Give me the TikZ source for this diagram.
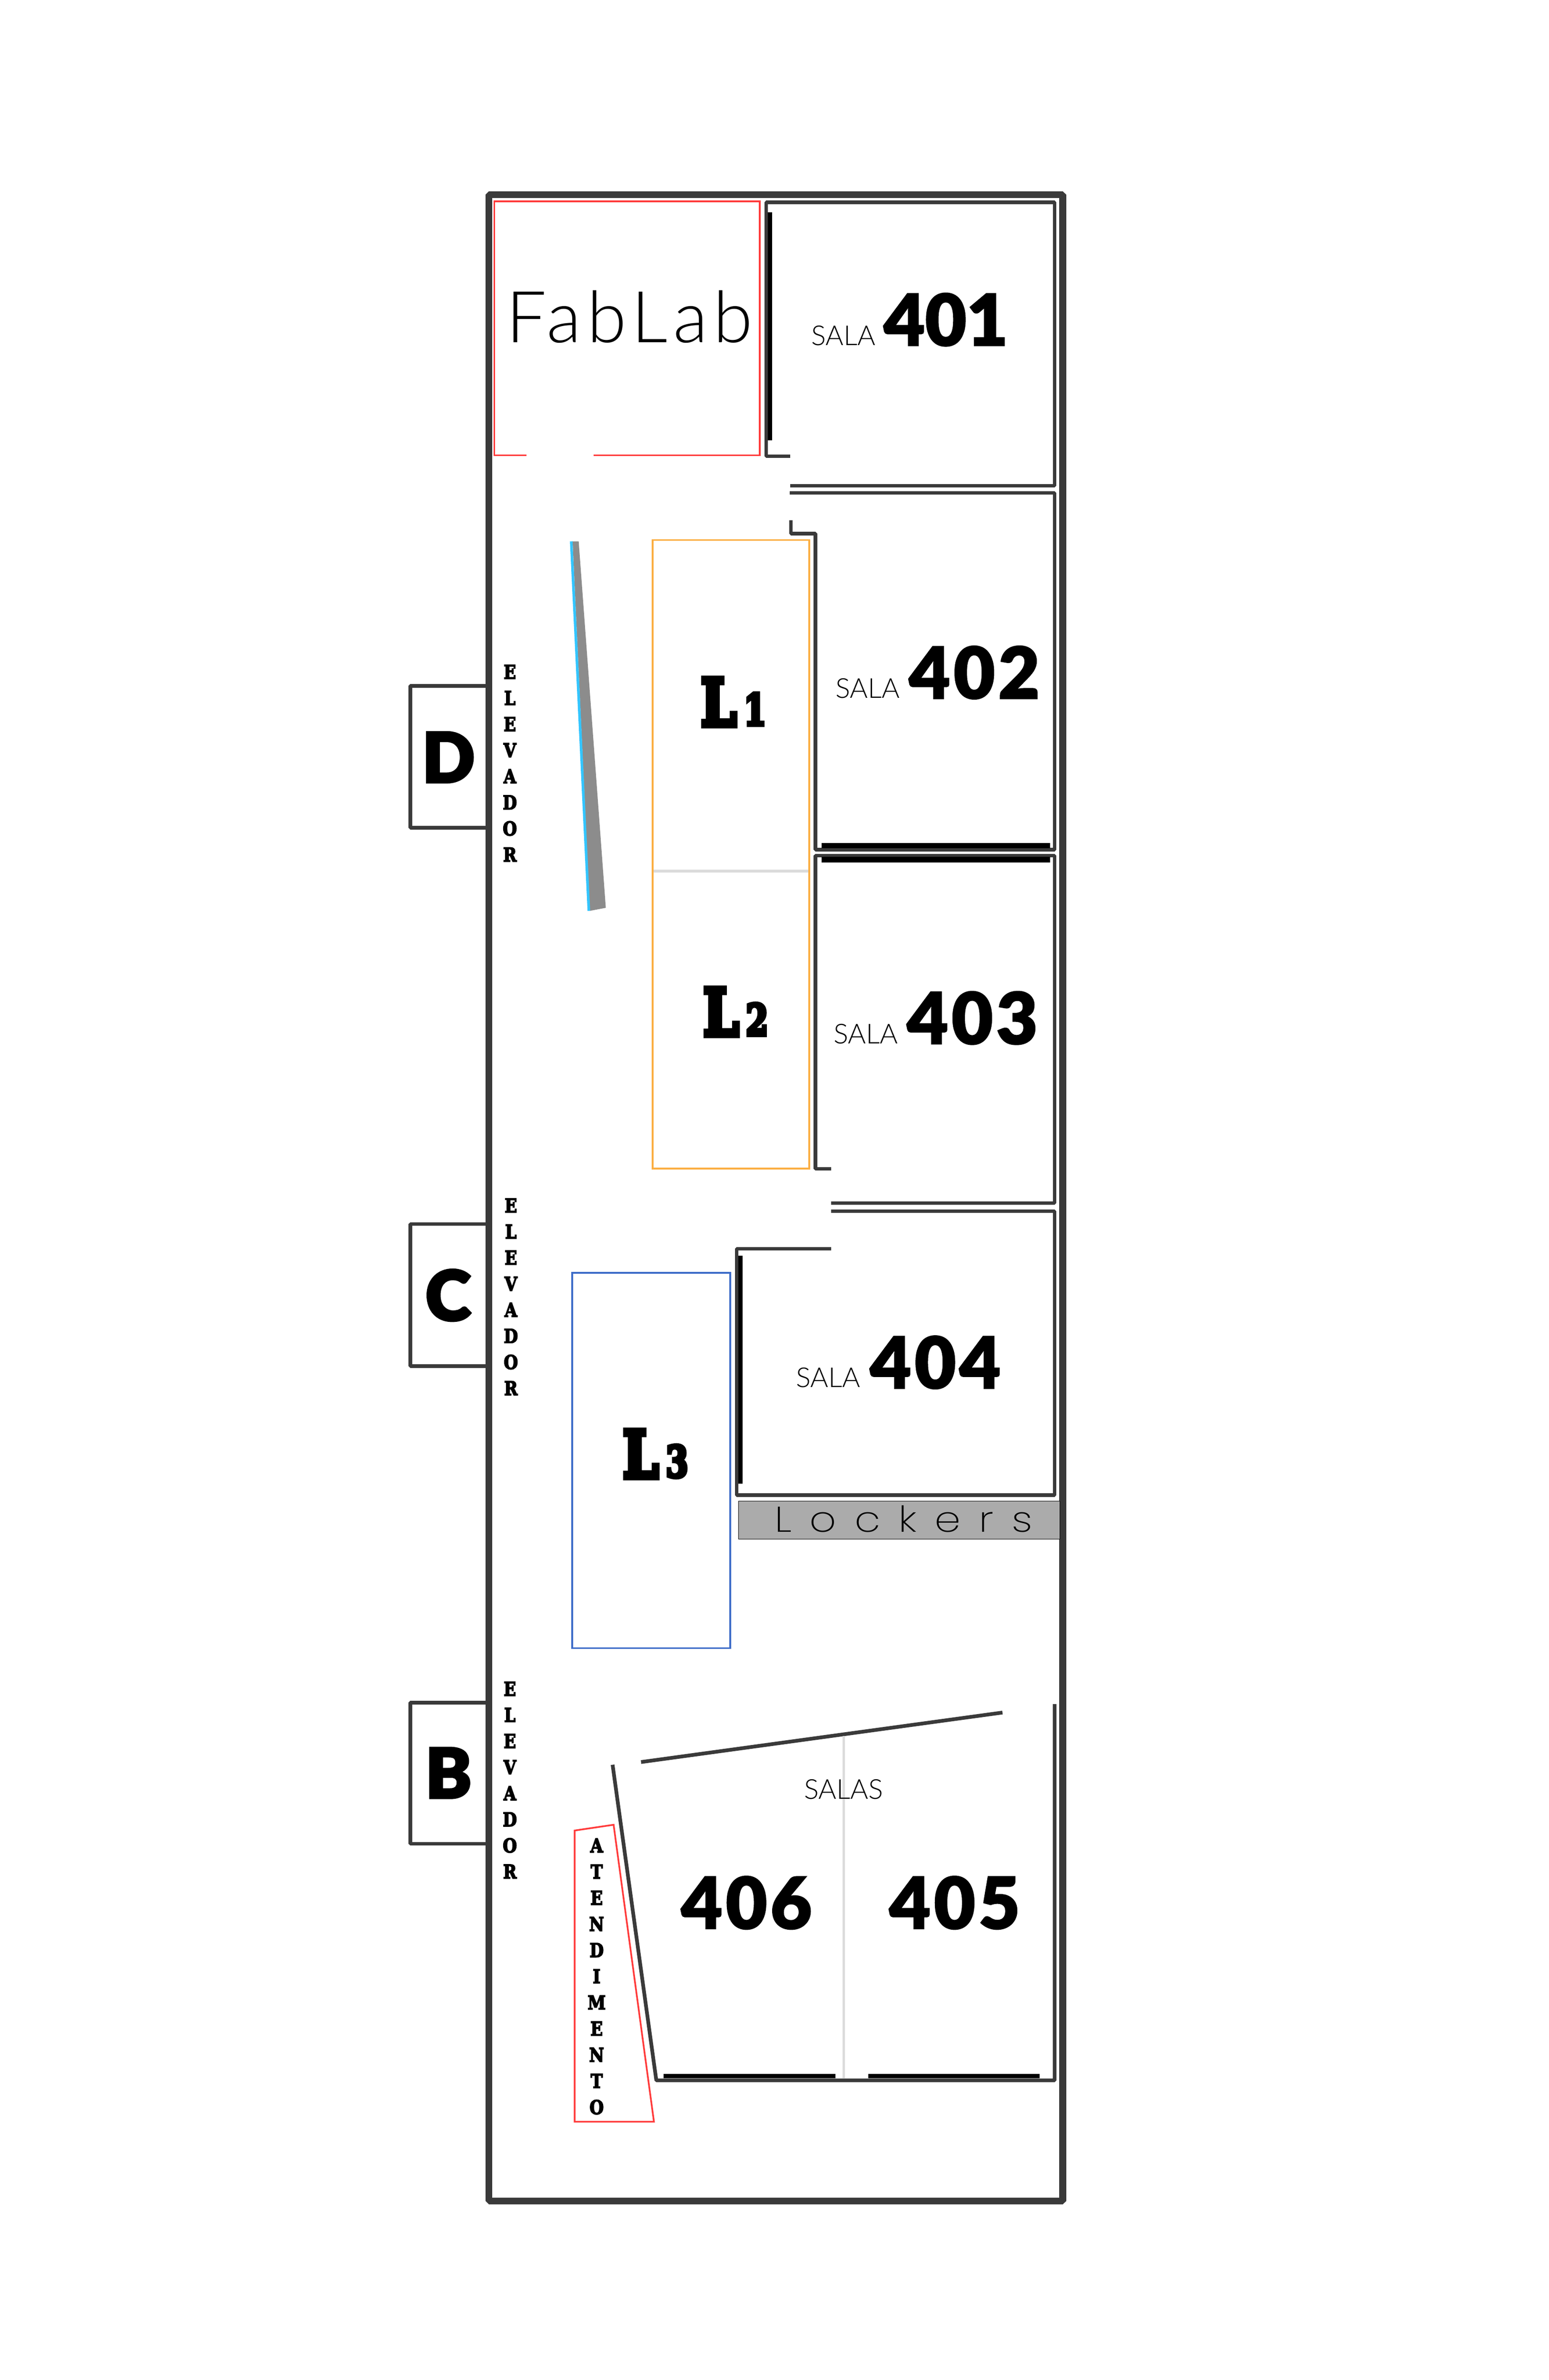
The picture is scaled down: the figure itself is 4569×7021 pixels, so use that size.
\documentclass[tikz,border=0pt]{standalone}
\usepackage{fontspec}
\newfontfamily\numfont[FakeBold=1.5]{Lato Black}
\newfontfamily\numwide[FakeBold=1.5,LetterSpace=4.5]{Lato Black}
\newfontfamily\tagfont[FakeBold=3]{Lato Black}
\newfontfamily\thinfont{Lato Light}
\newfontfamily\fabfont[LetterSpace=8]{Lato Light}
\newfontfamily\widefont[LetterSpace=43]{Poppins ExtraLight}
\newfontfamily\slabfont[FakeBold=5]{DejaVu Serif Bold}
\newfontfamily\fatfont[FakeBold=9]{DejaVu Serif Bold}
\definecolor{wallgray}{HTML}{3A3A3A}
\definecolor{fabred}{HTML}{FF3B3B}
\definecolor{lorange}{HTML}{FBAE42}
\definecolor{lblue}{HTML}{3D6CC8}
\definecolor{skycyan}{HTML}{33C5FF}
\definecolor{rampgray}{HTML}{8C8C8C}
\tikzset{
 wall/.style={draw=wallgray,line width=3.1pt,line join=bevel},
 thickwall/.style={draw=wallgray,line width=5.7pt,line join=bevel},
 bar/.style={fill=black,draw=none},
 zone/.style={line width=1.42pt},
 lightdiv/.style={draw=black!14,line width=2.2pt},
 num/.style={inner sep=0pt,font=\numfont\fontsize{60}{60}\selectfont},
 numsp/.style={inner sep=0pt,font=\numwide\fontsize{60}{60}\selectfont},
 tag/.style={inner sep=0pt,font=\tagfont\fontsize{58}{58}\selectfont},
 sala/.style={inner sep=0pt,font=\thinfont\fontsize{23}{23}\selectfont},
 slab/.style={inner sep=0pt,xscale=.85,font=\slabfont\fontsize{16}{16}\selectfont},
 bigslab/.style={inner sep=0pt,xscale=.78,font=\fatfont\fontsize{54}{54}\selectfont},
 smallslab/.style={inner sep=0pt,xscale=.75,font=\fatfont\fontsize{36}{36}\selectfont},
}
\begin{document}
\begin{tikzpicture}[x=0.01cm,y=-0.01cm]
\useasboundingbox (0,0) rectangle (4569,7021);
% outer walls
\draw[thickwall] (1442,574) rectangle (3135,6493);
% elevator tabs
\draw[wall] (1442,2023) -- (1210,2023) -- (1210,2442) -- (1442,2442);
\draw[wall] (1442,3611) -- (1210,3611) -- (1210,4030) -- (1442,4030);
\draw[wall] (1442,5023) -- (1210,5023) -- (1210,5439) -- (1442,5439);
\node[tag] (tagD) at (1323,2234) {D};
\node[tag] (tagC) at (1322,3821) {C};
\node[tag] (tagB) at (1323,5230) {B};
% rooms
\draw[wall] (2331,1346) -- (2260,1346) -- (2260,597) -- (3111,597) -- (3111,1433) -- (2331,1433);
\draw[wall] (2333,1535) -- (2333,1574) -- (2405,1574) -- (2405,2507) -- (3111,2507) -- (3111,1454) -- (2329,1454);
\draw[wall] (2451,3448) -- (2405,3448) -- (2405,2524) -- (3111,2524) -- (3111,3549) -- (2451,3549);
\draw[wall] (2451,3684) -- (2173,3684) -- (2173,4411) -- (3111,4411) -- (3111,3573) -- (2451,3573);
\draw[wall] (1807,5206) -- (1936,6137) -- (3111,6137) -- (3111,5027);
\draw[wall] (1891,5198) -- (2957,5052);
% black bars
\fill[bar] (2265,626) rectangle (2278,1299);
\fill[bar] (2424,2487) rectangle (3098,2502);
\fill[bar] (2424,2528) rectangle (3098,2544);
\fill[bar] (2178,3704) rectangle (2191,4377);
\draw[lightdiv] (2489,5121) -- (2489,6131);
\fill[bar] (1958,6118) rectangle (2464,6131);
\fill[bar] (2561,6118) rectangle (3067,6131);
% fablab
\draw[zone,fabred] (1553,1343) -- (1458,1343) -- (1458,594) -- (2241,594) -- (2241,1343) -- (1751,1343);
\node[inner sep=0pt,font=\fabfont\fontsize{60}{60}\selectfont] (fablab) at (1857,935) {FabLab};
% l zones
\draw[zone,lorange] (1925,1593) rectangle (2387,3447);
\draw[lightdiv] (1928,2570) -- (2384,2570);
\draw[zone,lblue] (1688,3755) rectangle (2154,4862);
\node[bigslab] (l1) at (2120,2071) {L};
\node[smallslab] (n1) at (2227,2092) {1};
\node[bigslab] (l2) at (2127,2985) {L};
\node[smallslab] (n2) at (2233,3007) {2};
\node[bigslab] (l3) at (1890,4289) {L};
\node[smallslab] (n3) at (1997,4311) {3};
% ramp
\fill[rampgray] (1689,1597) -- (1707,1597) -- (1787,2678) -- (1740,2687) -- cycle;
\draw[skycyan,line width=2.2pt] (1685,1597) -- (1737,2687);
% lockers
\filldraw[fill=black!33,draw=black,line width=.4pt] (2178,4428) rectangle (3126,4541);
\node[inner sep=0pt,xscale=1.17,font=\widefont\fontsize{30}{30}\selectfont] (lockers) at (2665,4481) {Lockers};
% sala labels
\node[num] (n401) at (2790,943) {401};
\node[sala] (s401) at (2488,990) {SALA};
\node[numsp] (n402) at (2874,1984) {402};
\node[sala] (s402) at (2560,2030) {SALA};
\node[numsp] (n403) at (2868,3003) {403};
\node[sala] (s403) at (2554,3050) {SALA};
\node[numsp] (n404) at (2759,4019) {404};
\node[sala] (s404) at (2443,4064) {SALA};
\node[numsp] (n405) at (2816,5613) {405};
\node[numsp] (n406) at (2202,5613) {406};
\node[sala] (salas) at (2489,5278) {SALAS};
% elevador
\foreach \letra [count=\i] in {E,L,E,V,A,D,O,R} {
 \node[slab] (elevD\i) at (1504,{1982+77*(\i-1)}) {\letra};
 \node[slab] (elevC\i) at (1507,{3556+77*(\i-1)}) {\letra};
 \node[slab] (elevB\i) at (1504,{4982+77*(\i-1)}) {\letra};
}
% atendimento
\draw[zone,fabred] (1695,5400) -- (1810,5383) -- (1929,6259) -- (1695,6259) -- cycle;
\foreach \letra [count=\i] in {A,T,E,N,D,I,M,E,N,T,O}
 \node[slab] (atend\i) at (1760,{5444+77.2*(\i-1)}) {\letra};
\end{tikzpicture}
\end{document}
